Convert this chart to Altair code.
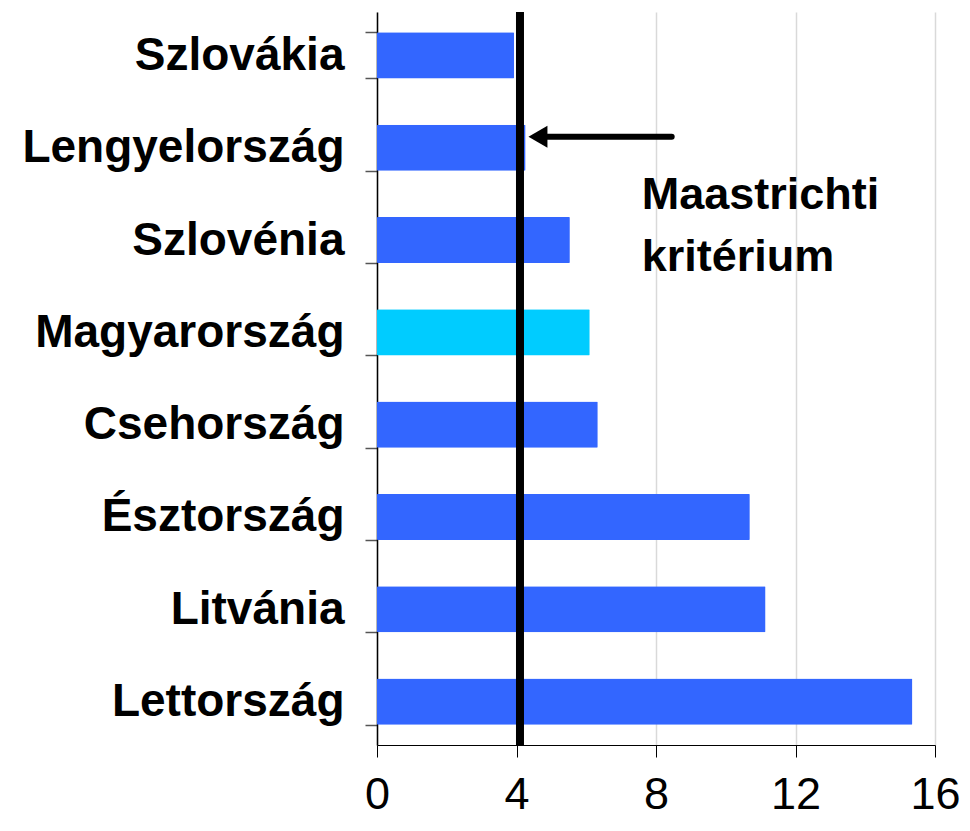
import altair as alt
import pandas as pd

countries = ["Szlovákia", "Lengyelország", "Szlovénia", "Magyarország",
             "Csehország", "Észtország", "Litvánia", "Lettország"]
values = [3.93, 4.26, 5.53, 6.10, 6.33, 10.69, 11.14, 15.35]
highlight = "Magyarország"
x_ticks = [0, 4, 8, 12, 16]
criterion = 4.1
arrow_start = 8.45
arrow_tip = 4.3
arrow_country = "Lengyelország"
note_text = "Maastrichti\nkritérium"
note_x = 7.59

FONT = "Liberation Sans"

df = pd.DataFrame({
    "country": countries,
    "value": values,
    "group": ["hu" if c == highlight else "other" for c in countries],
})

x_scale = alt.Scale(domain=[0, 16], nice=False, zero=True)
y_scale = alt.Scale(paddingInner=0.5, paddingOuter=0.22)

x_enc = alt.X(
    "value:Q", scale=x_scale,
    axis=alt.Axis(values=x_ticks, title=None, grid=True, gridColor="#d9d9d9",
                  gridWidth=1.5, domainColor="black", domainWidth=1,
                  tickColor="black", tickSize=12, tickWidth=1,
                  labelFontSize=45, labelFont=FONT, labelColor="black",
                  labelPadding=15, labelFlush=False, labelOverlap=False),
)
y_enc = alt.Y(
    "country:N", sort=countries, scale=y_scale,
    axis=alt.Axis(title=None, tickBand="extent", tickSize=12, tickColor="#555555",
                  tickWidth=1.5, domainColor="black", domainWidth=1.5,
                  labelFontSize=46, labelFontWeight="bold", labelFont=FONT,
                  labelColor="black", labelPadding=21, labelLimit=500, grid=False),
)

bars = alt.Chart(df).mark_bar(cornerRadius=1).encode(
    x=x_enc,
    y=y_enc,
    color=alt.Color("group:N",
                    scale=alt.Scale(domain=["other", "hu"], range=["#3366FF", "#00CCFF"]),
                    legend=None),
)

rule = alt.Chart(pd.DataFrame({"value": [criterion]})).mark_rule(
    color="black", strokeWidth=8
).encode(x=alt.X("value:Q", scale=x_scale))

arrow_df = pd.DataFrame({"value": [arrow_start], "value2": [arrow_tip + 0.4],
                         "country": [arrow_country]})
shaft = alt.Chart(arrow_df).mark_rule(
    color="black", strokeWidth=6, strokeCap="round", yOffset=-11
).encode(x=alt.X("value:Q", scale=x_scale), x2="value2:Q",
         y=alt.Y("country:N", sort=countries, scale=y_scale))

head_df = pd.DataFrame({"value": [arrow_tip], "country": [arrow_country]})
head = alt.Chart(head_df).mark_point(
    shape="triangle-left", filled=True, color="black", opacity=1, size=480,
    xOffset=11, yOffset=-11
).encode(x=alt.X("value:Q", scale=x_scale),
         y=alt.Y("country:N", sort=countries, scale=y_scale))

note_df = pd.DataFrame({"value": [note_x], "country": [arrow_country], "t": [note_text]})
note = alt.Chart(note_df).mark_text(
    align="left", baseline="alphabetic", lineBreak="\n", lineHeight=62,
    fontSize=45, fontWeight="bold", font=FONT, color="black", dy=61
).encode(x=alt.X("value:Q", scale=x_scale),
         y=alt.Y("country:N", sort=countries, scale=y_scale),
         text="t:N")

chart = alt.layer(bars, rule, shaft, head, note).properties(
    width=558, height=733,
    autosize=alt.AutoSizeParams(type="none"),
    padding={"left": 369, "top": 4, "right": 27, "bottom": 73},
    background="white",
).configure_view(stroke=None)

chart.save("out.html", embed_options={"renderer": "svg", "actions": False})
